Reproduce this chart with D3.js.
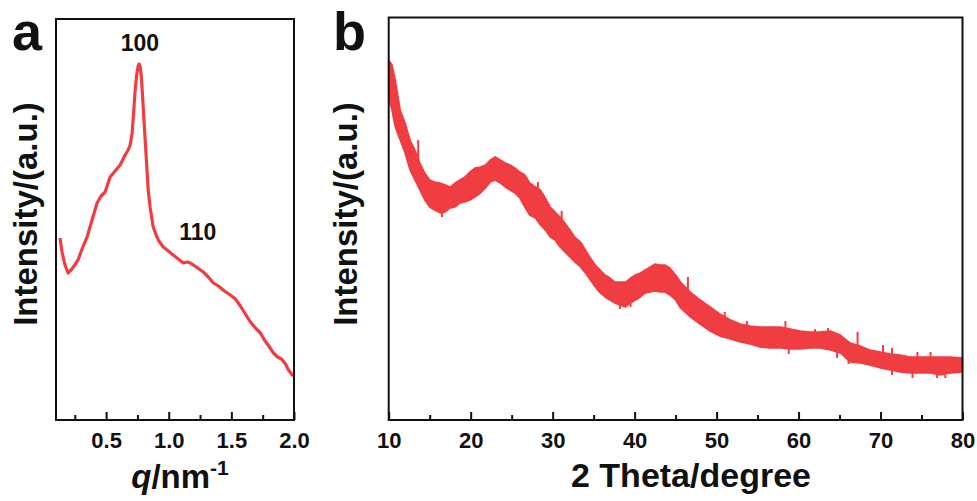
<!DOCTYPE html>
<html>
<head>
<meta charset="utf-8">
<script src="https://cdn.jsdelivr.net/npm/d3@7"></script>
<style>
  html, body { margin: 0; padding: 0; background: #fff; }
  svg { display: block; }
  text { font-family: "Liberation Sans", Arial, sans-serif; font-weight: bold; fill: #111; }
</style>
</head>
<body>
<svg id="chart" width="977" height="501"></svg>
<script>
// ---------- Panel a: SAXS ----------
const qValues = [0.132,0.148,0.172,0.196,0.22,0.244,0.276,0.308,0.348,0.388,0.428,0.46,0.492,0.532,0.572,0.612,0.652,0.676,0.692,0.708,0.72,0.732,0.744,0.756,0.764,0.772,0.78,0.788,0.80,0.812,0.824,0.836,0.852,0.876,0.90,0.916,0.956,0.996,1.036,1.076,1.116,1.148,1.172,1.22,1.276,1.316,1.356,1.396,1.444,1.492,1.532,1.572,1.612,1.652,1.692,1.732,1.764,1.804,1.836,1.868,1.90,1.932,1.956,1.98,1.996];
const saxsIntensity = [182,168,155,147,150,154,160,171,183,200,217,224,228,243,249,255,265,270,275,287,308,330,345,354,356,353,345,330,305,280,255,230,212,193,185,180,173,169,165,161,157,158,157,153,148,143,137,134,129,125,121,114,106,98,92,87,80,73,67,63,61,56,50,46,44];
const qTicks = [0.5, 1.0, 1.5, 2.0];
const qMinorTicks = [0.25, 0.75, 1.25, 1.75];
const peakLabels = ["100", "110"];
const peakQ = [0.77, 1.232];
const peakI = [369, 180];

// ---------- Panel b: XRD ----------
const thetaValues = [10,10.4,10.8,11.4,12,12.6,13.2,13.8,14.4,15,15.6,16.3,16.9,17.5,18.1,18.7,19.3,19.9,20.5,21.2,21.8,22.4,23,23.6,24.2,24.8,25.4,26,26.6,27.2,27.9,28.5,29.1,29.7,30.3,30.9,31.5,32.1,32.7,33.4,34,34.6,35.2,35.8,36.4,37,37.6,38.2,38.9,39.5,40.1,40.7,41.3,41.9,42.5,43.1,43.7,44.3,45,45.6,46.8,48,49.2,50.4,51.7,52.9,54.1,55.3,56.5,57.8,59,60.2,61.4,62.6,63.9,65.1,66.3,67.5,68.7,70,71.2,72.4,73.6,74.8,76.1,77.3,78.5,80];
const xrdUpper = [360,355,340,310,297,280,270,257,247,240,238,237,235,233,237,240,243,248,252,253,255,260,263,260,257,255,252,248,245,237,233,230,222,213,208,203,197,190,183,178,170,162,155,150,145,142,138,138,138,142,145,147,150,153,156,155,155,152,145,138,128,120,113,106,100,96,94,93,93,93,91,89,88,88,89,85,77,74,70,68,66,65,63,63,63,63,63,62];
const xrdLower = [323,310,293,280,267,250,240,230,220,213,210,207,208,212,213,217,218,220,223,227,232,238,240,237,233,230,227,222,213,205,202,195,190,183,180,173,168,163,158,153,147,140,133,127,123,120,117,115,113,117,120,123,127,128,129,128,128,125,120,112,103,96,89,84,81,78,76,73,72,72,71,71,72,72,70,67,58,57,55,52,50,48,47,47,47,45,47,48];
// noise spikes: [2theta, low, high]
const xrdSpikes = [[13.6,255,280],[16.5,203,210],[28.2,228,238],[31.1,198,209],[38.2,111,118],[39.5,113,119],
  [46.5,128,143],[51.0,100,108],[53.7,93,99],[58.4,90,99],[58.8,66,73],[62.0,86,91],[63.6,87,92],[64.7,62,69],
  [66.1,56,62],[67.2,74,88],[70.3,66,75],[71.4,45,72],[73.9,42,48],[74.5,61,68],[76.1,61,68],[76.9,42,48],[77.9,42,48]];
const thetaTicks = [10,20,30,40,50,60,70,80];
const thetaMinorTicks = [15,25,35,45,55,65,75];

const red = "#f03d42";
const svg = d3.select("#chart");

function frameAxis(g, x, y0, ticks, minor, fmt, fontSize) {
  const xMajor = d3.axisBottom(x).tickValues(ticks).tickSize(-8).tickPadding(12).tickFormat(fmt);
  const ga = g.append("g").attr("transform", `translate(0,${y0})`).call(xMajor);
  ga.select(".domain").remove();
  ga.selectAll(".tick line").attr("stroke", "#111").attr("stroke-width", 2);
  ga.selectAll(".tick text").style("font-size", fontSize + "px").attr("fill", "#111");
  const xMinor = d3.axisBottom(x).tickValues(minor).tickSize(-5).tickFormat("");
  const gm = g.append("g").attr("transform", `translate(0,${y0})`).call(xMinor);
  gm.select(".domain").remove();
  gm.selectAll(".tick line").attr("stroke", "#111").attr("stroke-width", 2);
}

// ---- Panel a ----
{
  const L = 56, R = 294, T = 19, B = 420;
  const x = d3.scaleLinear().domain([0.1, 2.0]).range([L, R]);
  const y = d3.scaleLinear().domain([0, 401]).range([B, T]);
  const g = svg.append("g");
  const data = qValues.map((q, i) => [q, saxsIntensity[i]]);
  g.append("path").datum(data)
    .attr("d", d3.line().x(d => x(d[0])).y(d => y(d[1])).curve(d3.curveLinear))
    .attr("fill", "none").attr("stroke", red).attr("stroke-width", 3.2).attr("stroke-linejoin", "round");
  frameAxis(g, x, B, qTicks, qMinorTicks, d3.format(".1f"), 22);
  g.append("rect").attr("x", L).attr("y", T).attr("width", R - L).attr("height", B - T)
    .attr("fill", "none").attr("stroke", "#111").attr("stroke-width", 2);
  peakLabels.forEach((t, i) => {
    g.append("text").attr("x", x(peakQ[i])).attr("y", y(peakI[i])).attr("text-anchor", "middle")
      .style("font-size", "23px").text(t);
  });
  g.append("text").attr("transform", "translate(37,214) rotate(-90)").attr("text-anchor", "middle")
    .style("font-size", "33px").text("Intensity/(a.u.)");
  const xt = g.append("text").attr("x", 180).attr("y", 488).attr("text-anchor", "middle").style("font-size", "33px");
  xt.append("tspan").style("font-style", "italic").text("q");
  xt.append("tspan").text("/nm");
  xt.append("tspan").attr("dy", -13).style("font-size", "21px").text("-1");
  g.append("text").attr("x", 12).attr("y", 50).style("font-size", "54px").text("a");
}

// ---- Panel b ----
{
  const L = 388.7, R = 962.5, T = 17.5, B = 420;
  const x = d3.scaleLinear().domain([10, 80]).range([L, R]);
  const y = d3.scaleLinear().domain([0, 402.5]).range([B, T]);
  const g = svg.append("g");
  const band = thetaValues.map((t, i) => ({ t, hi: xrdUpper[i], lo: xrdLower[i] }));
  g.append("path").datum(band)
    .attr("d", d3.area().x(d => x(d.t)).y0(d => y(d.lo)).y1(d => y(d.hi)).curve(d3.curveLinear))
    .attr("fill", red).attr("stroke", red).attr("stroke-width", 1.6).attr("stroke-linejoin", "round");
  g.selectAll(".spike").data(xrdSpikes).enter().append("line")
    .attr("x1", d => x(d[0])).attr("x2", d => x(d[0]))
    .attr("y1", d => y(d[1])).attr("y2", d => y(d[2]))
    .attr("stroke", red).attr("stroke-width", 2);
  frameAxis(g, x, B, thetaTicks, thetaMinorTicks, d3.format("d"), 22);
  g.append("rect").attr("x", L).attr("y", T).attr("width", R - L).attr("height", B - T)
    .attr("fill", "none").attr("stroke", "#111").attr("stroke-width", 2);
  g.append("text").attr("transform", "translate(357,214) rotate(-90)").attr("text-anchor", "middle")
    .style("font-size", "33px").text("Intensity/(a.u.)");
  g.append("text").attr("x", 691).attr("y", 487).attr("text-anchor", "middle")
    .style("font-size", "34px").text("2 Theta/degree");
  g.append("text").attr("x", 333).attr("y", 50).style("font-size", "54px").text("b");
}
</script>
</body>
</html>
